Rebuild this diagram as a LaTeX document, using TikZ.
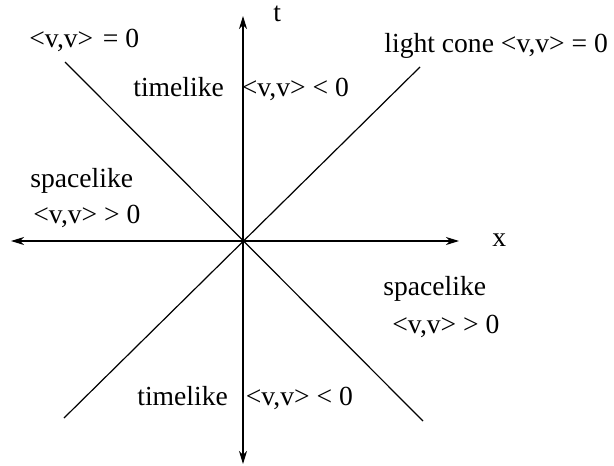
\documentclass[tikz,border=0pt]{standalone}
\usepackage{fontspec}
\setmainfont{Liberation Serif}
\usetikzlibrary{arrows.meta}
\begin{document}
\begin{tikzpicture}[x=0.5pt,y=-0.5pt,
  axis/.style={line width=0.6pt,-{Stealth[length=6.5pt,width=4pt,inset=2pt]}},
  cone/.style={line width=0.6pt},
  lbl/.style={anchor=base west,inner sep=0pt,font=\fontsize{13.8pt}{16pt}\selectfont}]
\useasboundingbox (0,0) rectangle (614,465);
% axes
\coordinate (O) at (243,241);
\coordinate (top) at (243,16);
\coordinate (bot) at (243,464);
\coordinate (left) at (11,241);
\coordinate (right) at (459,241);
\draw[axis] (O) -- (top);
\draw[axis] (O) -- (bot);
\draw[axis] (O) -- (left);
\draw[axis] (O) -- (right);
% light cone lines
\coordinate (ul) at (65,62);
\coordinate (lr) at (423,421);
\coordinate (ur) at (420,67);
\coordinate (ll) at (64,418);
\draw[cone] (ul) -- (lr);
\draw[cone] (ur) -- (ll);
% labels
\node[lbl] (tlab) at (273,22) {t};
\node[lbl] (xlab) at (492,246) {x};
\node[lbl] (lc1) at (29,48) {<v,v>\hspace{0.1em} = 0};
\node[lbl] (lc2) at (384,53) {light cone <v,v> = 0};
\node[lbl] (tl1) at (133,97) {timelike\hspace{0.4em} <v,v> < 0};
\node[lbl] (tl2) at (137,405) {timelike\hspace{0.4em} <v,v> < 0};
\node[lbl] (sl1) at (30,187) {spacelike};
\node[lbl] (sl1b) at (33,223) {<v,v> > 0};
\node[lbl] (sl2) at (383,295) {spacelike};
\node[lbl] (sl2b) at (392,333) {<v,v> > 0};
\end{tikzpicture}
\end{document}
